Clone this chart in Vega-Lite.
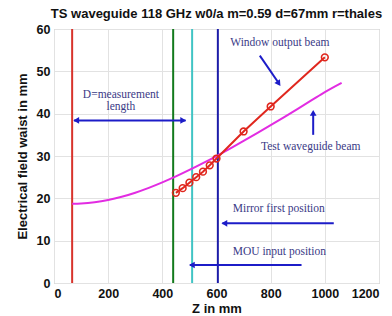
{
  "$schema": "https://vega.github.io/schema/vega-lite/v6.json",
  "width": 325,
  "height": 254,
  "autosize": {"type": "none"},
  "padding": {"left": 54, "top": 29, "right": 13, "bottom": 33},
  "background": "white",
  "title": {
    "text": "TS waveguide 118 GHz w0/a m=0.59 d=67mm r=thales",
    "font": "Liberation Sans",
    "fontSize": 13,
    "fontWeight": "bold",
    "color": "#111",
    "anchor": "middle",
    "offset": 2
  },
  "config": {
    "view": {"stroke": "#b0b0b0", "strokeWidth": 1},
    "axis": {
      "labelFont": "Liberation Sans",
      "labelFontWeight": "bold",
      "labelFontSize": 12.5,
      "labelColor": "#111",
      "titleFont": "Liberation Sans",
      "titleFontWeight": "bold",
      "titleFontSize": 13,
      "titleColor": "#111",
      "gridColor": "#e2e2e2",
      "gridWidth": 1,
      "domain": false,
      "ticks": false
    }
  },
  "datasets": {
    "vlines": [
      {"z": 67, "name": "start"},
      {"z": 440, "name": "mou"},
      {"z": 510, "name": "window"},
      {"z": 605, "name": "mirror"}
    ],
    "guide": [
      {"z": 67, "w": 18.7},
      {"z": 100, "w": 18.76},
      {"z": 150, "w": 19.05},
      {"z": 200, "w": 19.59},
      {"z": 250, "w": 20.36},
      {"z": 300, "w": 21.33},
      {"z": 350, "w": 22.47},
      {"z": 400, "w": 23.76},
      {"z": 450, "w": 25.17},
      {"z": 500, "w": 26.7},
      {"z": 550, "w": 28.31},
      {"z": 600, "w": 29.99},
      {"z": 650, "w": 31.74},
      {"z": 700, "w": 33.55},
      {"z": 750, "w": 35.39},
      {"z": 800, "w": 37.28},
      {"z": 850, "w": 39.2},
      {"z": 900, "w": 41.15},
      {"z": 950, "w": 43.12},
      {"z": 1000, "w": 45.11},
      {"z": 1062, "w": 47.3}
    ],
    "measured": [
      {"z": 450, "w": 21.3},
      {"z": 475, "w": 22.4},
      {"z": 500, "w": 23.7},
      {"z": 525, "w": 25.0},
      {"z": 550, "w": 26.3},
      {"z": 575, "w": 27.8},
      {"z": 600, "w": 29.4},
      {"z": 700, "w": 35.8},
      {"z": 800, "w": 41.7},
      {"z": 1000, "w": 53.3}
    ],
    "notes": [
      {"z": 834, "w": 56.7, "label": "Window output beam"},
      {"z": 247, "w": 44.4, "label": "D=measurement"},
      {"z": 247, "w": 41.6, "label": "length"},
      {"z": 948, "w": 32.1, "label": "Test waveguide beam"},
      {"z": 830, "w": 17.4, "label": "Mirror first position"},
      {"z": 832, "w": 7.4, "label": "MOU input position"}
    ],
    "arrows": [
      {"z1": 74, "w1": 38.4, "z2": 486, "w2": 38.4},
      {"z1": 1033, "w1": 14.1, "z2": 622, "w2": 14.1},
      {"z1": 914, "w1": 4.25, "z2": 502, "w2": 4.25},
      {"z1": 957, "w1": 35.0, "z2": 957, "w2": 40.2},
      {"z1": 760, "w1": 53.7, "z2": 832, "w2": 47.0}
    ],
    "heads": [
      {"z": 82, "w": 38.4, "dir": "left"},
      {"z": 477, "w": 38.4, "dir": "right"},
      {"z": 629, "w": 14.1, "dir": "left"},
      {"z": 509, "w": 4.25, "dir": "left"},
      {"z": 957, "w": 40.2, "dir": "up"},
      {"z": 830, "w": 47.1, "dir": "downright"}
    ]
  },
  "layer": [
    {
      "data": {"name": "vlines"},
      "mark": {"type": "rule", "strokeWidth": 2},
      "encoding": {
        "x": {"field": "z", "type": "quantitative", "scale": {"domain": [0, 1200], "nice": false}, "axis": {"title": "Z in mm", "values": [0, 200, 400, 600, 800, 1000, 1200], "format": "d", "labelPadding": 4, "titlePadding": 3}},
        "color": {"field": "name", "type": "nominal", "legend": null, "scale": {"domain": ["start", "mou", "window", "mirror"], "range": ["#d8322b", "#137a1c", "#40c4c4", "#1c1ca8"]}}
      }
    },
    {
      "data": {"name": "guide"},
      "mark": {"type": "line", "color": "#e22ce2", "strokeWidth": 2, "interpolate": "monotone"},
      "encoding": {
        "x": {"field": "z", "type": "quantitative"},
        "y": {"field": "w", "type": "quantitative", "scale": {"domain": [0, 60], "nice": false}, "axis": {"title": "Electrical field waist in mm", "values": [0, 10, 20, 30, 40, 50, 60], "labelPadding": 4, "titlePadding": 7}}
      }
    },
    {
      "data": {"name": "measured"},
      "mark": {"type": "line", "color": "#e0271e", "strokeWidth": 2},
      "encoding": {
        "x": {"field": "z", "type": "quantitative"},
        "y": {"field": "w", "type": "quantitative"}
      }
    },
    {
      "data": {"name": "measured"},
      "mark": {"type": "point", "shape": "circle", "size": 45, "color": "#e0271e", "strokeWidth": 1.6, "filled": false, "opacity": 1},
      "encoding": {
        "x": {"field": "z", "type": "quantitative"},
        "y": {"field": "w", "type": "quantitative"}
      }
    },
    {
      "data": {"name": "arrows"},
      "mark": {"type": "rule", "color": "#1c1cc8", "strokeWidth": 2},
      "encoding": {
        "x": {"field": "z1", "type": "quantitative"},
        "y": {"field": "w1", "type": "quantitative"},
        "x2": {"field": "z2"},
        "y2": {"field": "w2"}
      }
    },
    {
      "data": {"name": "heads"},
      "transform": [{"filter": "datum.dir == 'left'"}],
      "mark": {"type": "point", "shape": "triangle-left", "size": 45, "filled": true, "color": "#1c1cc8", "opacity": 1},
      "encoding": {
        "x": {"field": "z", "type": "quantitative"},
        "y": {"field": "w", "type": "quantitative"}
      }
    },
    {
      "data": {"name": "heads"},
      "transform": [{"filter": "datum.dir == 'right'"}],
      "mark": {"type": "point", "shape": "triangle-right", "size": 45, "filled": true, "color": "#1c1cc8", "opacity": 1},
      "encoding": {
        "x": {"field": "z", "type": "quantitative"},
        "y": {"field": "w", "type": "quantitative"}
      }
    },
    {
      "data": {"name": "heads"},
      "transform": [{"filter": "datum.dir == 'up'"}],
      "mark": {"type": "point", "shape": "triangle-up", "size": 45, "filled": true, "color": "#1c1cc8", "opacity": 1},
      "encoding": {
        "x": {"field": "z", "type": "quantitative"},
        "y": {"field": "w", "type": "quantitative"}
      }
    },
    {
      "data": {"name": "heads"},
      "transform": [{"filter": "datum.dir == 'downright'"}],
      "mark": {"type": "point", "shape": "triangle-up", "angle": 146, "size": 45, "filled": true, "color": "#1c1cc8", "opacity": 1},
      "encoding": {
        "x": {"field": "z", "type": "quantitative"},
        "y": {"field": "w", "type": "quantitative"}
      }
    },
    {
      "data": {"name": "notes"},
      "mark": {"type": "text", "font": "Liberation Serif", "fontSize": 11.5, "color": "#3a3a86", "align": "center", "baseline": "middle"},
      "encoding": {
        "x": {"field": "z", "type": "quantitative"},
        "y": {"field": "w", "type": "quantitative"},
        "text": {"field": "label"}
      }
    }
  ]
}
